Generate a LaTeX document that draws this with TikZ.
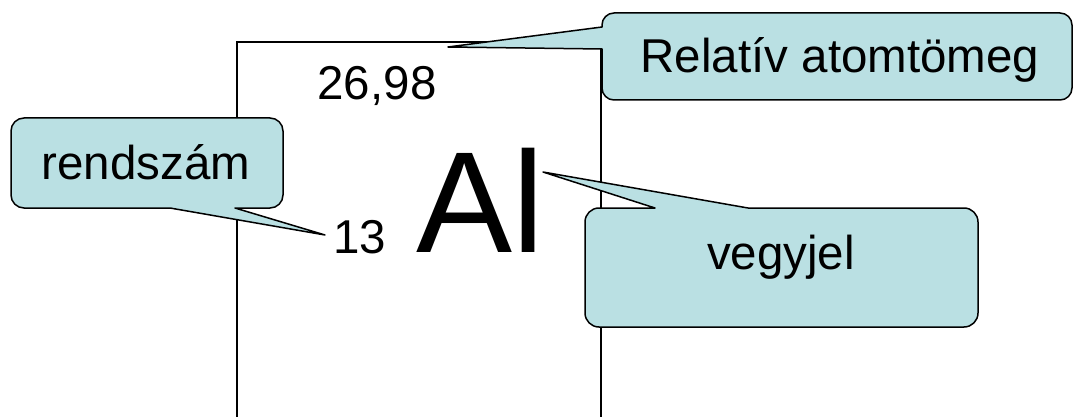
\documentclass[tikz,border=0pt]{standalone}
\usepackage{fontspec}
\setmainfont{Liberation Sans}
\definecolor{callfill}{RGB}{186,224,227}
\tikzset{
  callout/.style={fill=callfill, draw=black, line width=1.5pt, line join=round},
  boxline/.style={draw=black, line width=1.7pt},
  txt/.style={inner sep=0pt, font=\fontsize{47.5}{52}\selectfont},
  big/.style={inner sep=0pt, font=\fontsize{144}{150}\selectfont}
}
\begin{document}
\begin{tikzpicture}[x=1pt,y=-1pt]
\clip (0,0) rectangle (1074,417);
\fill[white] (0,0) rectangle (1074,417);
% element box
\draw[boxline] (237,430) -- (237,42) -- (601,42) -- (601,430);
% texts inside box
\node[txt, anchor=base] (mass) at (377,100) {26,98};
\node[txt, anchor=base west] (num) at (333,253) {13};
\node[big, anchor=base west] (sym) at (416,252) {Al};
% callout: Relativ atomtomeg
\coordinate (tipA) at (448,47);
\path[callout] (614,13) -- (1060,13) arc[start angle=270,end angle=360,radius=12]
  -- (1072,88) arc[start angle=0,end angle=90,radius=12]
  -- (614,100) arc[start angle=90,end angle=180,radius=12]
  -- (602,49) -- (tipA) -- (602,27) -- (602,25) arc[start angle=180,end angle=270,radius=12] -- cycle;
\node[txt, anchor=base] (lblA) at (840,73) {Relatív atomtömeg};
% callout: rendszam
\coordinate (tipB) at (325,235);
\path[callout] (24,118) -- (270,118) arc[start angle=270,end angle=360,radius=13]
  -- (283,195) arc[start angle=0,end angle=90,radius=13]
  -- (235,208) -- (tipB) -- (170,208) -- (24,208) arc[start angle=90,end angle=180,radius=13]
  -- (11,131) arc[start angle=180,end angle=270,radius=13] -- cycle;
\node[txt, anchor=base] (lblB) at (146,179) {rendszám};
% callout: vegyjel
\coordinate (tipC) at (543,172);
\path[callout] (599,208) -- (655,208) -- (tipC) -- (748,208) -- (964,208) arc[start angle=270,end angle=360,radius=14]
  -- (978,313) arc[start angle=0,end angle=90,radius=14]
  -- (599,327) arc[start angle=90,end angle=180,radius=14]
  -- (585,222) arc[start angle=180,end angle=270,radius=14] -- cycle;
\node[txt, anchor=base] (lblC) at (781,269) {vegyjel};
\end{tikzpicture}
\end{document}
